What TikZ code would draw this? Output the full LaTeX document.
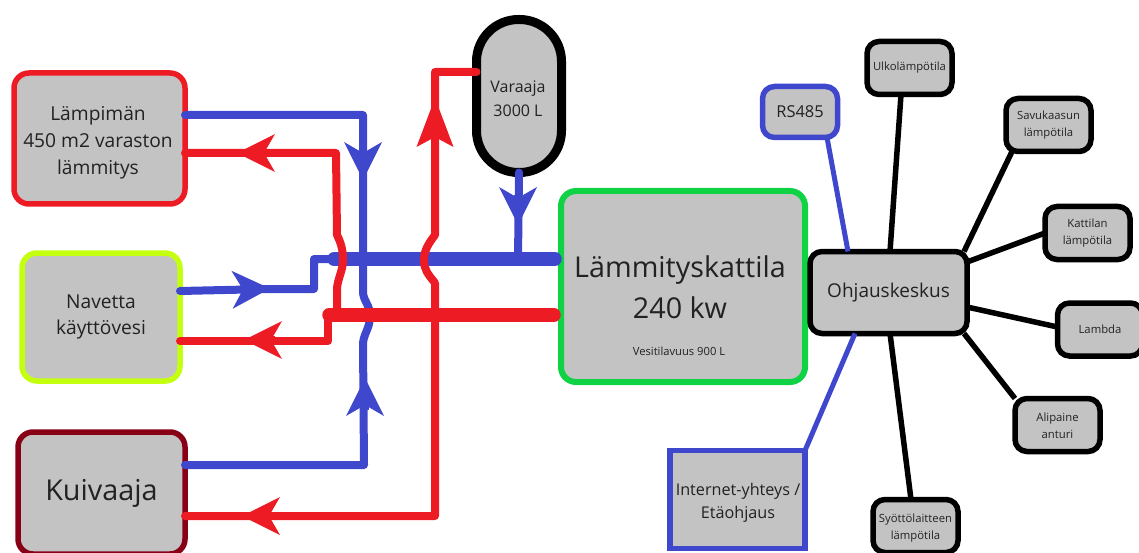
\documentclass[tikz,border=0pt]{standalone}
\usepackage{fontspec}
\setmainfont{Open Sans}
\usetikzlibrary{arrows.meta}
\definecolor{pred}{HTML}{ED1C24}
\definecolor{pblue}{HTML}{3F48CC}
\definecolor{pgreen}{HTML}{0FD244}
\definecolor{pyel}{HTML}{C4FF0E}
\definecolor{pdark}{HTML}{880015}
\definecolor{pgrey}{HTML}{C3C3C3}
\definecolor{ptext}{HTML}{222222}
\tikzset{
  box/.style={draw,fill=pgrey,rounded corners=12pt,line width=5.5pt,outer sep=0pt,inner sep=0pt,align=center,text=ptext},
  bigbox/.style={box,rounded corners=15pt},
  sensor/.style={box,draw=black,minimum width=85pt,minimum height=53pt,font=\fontsize{11.3}{17}\selectfont},
  lbl/.style={inner sep=0pt,align=center,text=ptext},
  pipe/.style={line width=8pt,line cap=round,line join=round},
  header/.style={line width=13.5pt,line cap=round,line join=round},
  wire/.style={line width=5.5pt,black},
  bluewire/.style={line width=5pt,pblue},
  tipr/.style={-{Stealth[length=38pt,width=38pt,inset=11pt,line width=0pt]},line width=8pt,pred},
  tipb/.style={-{Stealth[length=38pt,width=38pt,inset=11pt,line width=0pt]},line width=8pt,pblue},
  tiprlong/.style={-{Stealth[length=49pt,width=37pt,inset=10pt,line width=0pt]},line width=8pt,pred}
}
\begin{document}
\begin{tikzpicture}[x=1pt,y=-1pt]
\useasboundingbox (0,0) rectangle (1139,553);
% boxes
\node[bigbox,draw=pred,minimum width=171pt,minimum height=131pt] (lamp) at (99.5,138.5) {};
\node[lbl,font=\fontsize{19.2}{27}\selectfont] (lampT) at (98,143) {Lämpimän\\450 m2 varaston\\lämmitys};
\node[bigbox,draw=pyel,minimum width=158pt,minimum height=128pt,font=\fontsize{19.2}{26}\selectfont] (nav) at (101,317) {Navetta\\käyttövesi};
\node[bigbox,draw=pdark,minimum width=167pt,minimum height=122pt,font=\fontsize{28.8}{34}\selectfont] (kui) at (101.5,493) {Kuivaaja};
\node[box,draw=black,line width=9pt,rounded corners=42pt,minimum width=85pt,minimum height=153pt] (var) at (519,96) {};
\node[lbl,font=\fontsize{16}{24}\selectfont] (varT) at (518,99) {Varaaja\\3000 L};
\node[bigbox,draw=pgreen,line width=6pt,minimum width=244pt,minimum height=191pt] (kat) at (683,286.5) {};
\node[lbl,font=\fontsize{28.7}{41}\selectfont] (katT) at (680,287) {Lämmityskattila\\240 kw};
\node[lbl,font=\fontsize{11.2}{13}\selectfont] (katS) at (679,351) {Vesitilavuus 900 L};
\node[box,draw=black,minimum width=157pt,minimum height=82pt,font=\fontsize{19}{22}\selectfont] (ohj) at (888.5,292.5) {Ohjauskeskus};
\node[sensor] (ulko) at (909.5,68) {Ulkolämpötila};
\node[box,draw=pblue,minimum width=75pt,minimum height=51pt,font=\fontsize{16.4}{18}\selectfont] (rs) at (800,112) {RS485};
\node[sensor] (savu) at (1048.5,125) {Savukaasun\\lämpötila};
\node[sensor] (katl) at (1087.5,233) {Kattilan\\lämpötila};
\node[sensor] (lam) at (1100,329.5) {Lambda};
\node[sensor] (ali) at (1057.5,425) {};
\node[lbl,font=\fontsize{11.3}{17}\selectfont] (aliT) at (1057.5,426) {Alipaine\\anturi};
\node[sensor] (syo) at (915.5,526) {};
\node[lbl,font=\fontsize{11.3}{17}\selectfont] (syoT) at (915.5,528) {Syöttölaitteen\\lämpötila};
\node[box,draw=pblue,rounded corners=0pt,minimum width=135pt,minimum height=98pt] (net) at (737.5,499.5) {};
\node[lbl,font=\fontsize{16.2}{23}\selectfont] (netT) at (738,503) {Internet-yhteys /\\Etäohjaus};
% sensor wires
\draw[wire] (ulko.south -| 901,0) -- (ohj.north -| 890,0);
\draw[bluewire] (rs.south -| 827,0) -- (ohj.north -| 848,0);
\draw[wire] (savu.south -| 1012,0) -- (ohj.north -| 964,0);
\draw[wire] (katl.west |- 0,233) -- (ohj.east |- 0,262);
\draw[wire] (lam.west |- 0,327) -- (ohj.east |- 0,307);
\draw[wire] (ali.north -| 1015,0) -- (ohj.south -| 964,0);
\draw[wire] (syo.north -| 911,0) -- (ohj.south -| 890,0);
\draw[bluewire] (net.north east) -- (ohj.south -| 855,0);
% pipes
\draw[pipe,pblue] (kui.east |- 0,465) -- (364,465) -- (363,343) .. controls (364,333) and (370,328) .. (370,316) .. controls (370,305) and (364,302) .. (363,293) -- (363,115) -- (lamp.east |- 0,115);
\draw[pipe,pblue] (nav.east |- 0,291) -- (270,289) -- (314,289) -- (314,259) -- (334,259);
\draw[header,pblue] (334,259) -- (555,259);
\draw[pipe,pblue] (var.south) -- (518,259);
\draw[pipe,pred] (nav.east |- 0,341) -- (328,341) -- (328,315);
\draw[header,pred] (329,315) -- (554,315);
\draw[pipe,pred] (lamp.east |- 0,153) -- (336,153) -- (337,235) .. controls (341,243) and (343,250) .. (343,260) .. controls (343,270) and (338,278) .. (337,288) -- (337,310);
\draw[pipe,pred] (kui.east |- 0,516) -- (435,516) -- (435,283) .. controls (428,274) and (424,270) .. (424,260) .. controls (424,250) and (429,243) .. (435,235) -- (435,72) -- (var.west |- 0,72);
% arrowheads
\draw[tipb] (363,150) -- (363,180);
\draw[tipb] (518,195) -- (518,225);
\draw[tipb] (365,410) -- (365,378);
\draw[tipb] (240,289.5) -- (270,288.5);
\draw[tiprlong] (435,140) -- (435,98);
\draw[tipr] (270,153) -- (237,153);
\draw[tipr] (275,340) -- (244,340);
\draw[tipr] (275,516) -- (242,516);
\end{tikzpicture}
\end{document}
